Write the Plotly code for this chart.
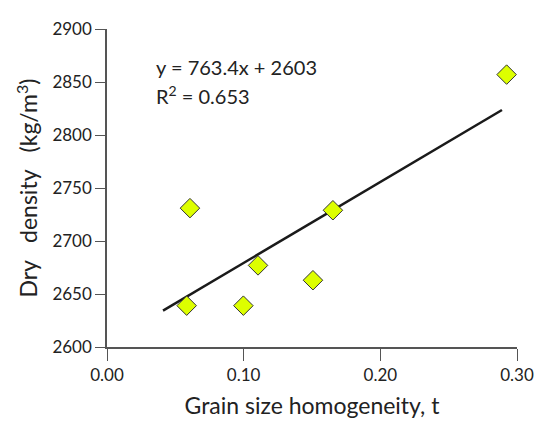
import plotly.graph_objects as go

# Data
grain_t = [0.0583, 0.0607, 0.0998, 0.1105, 0.1507, 0.1653, 0.2924]
dry_density = [2639, 2731, 2639, 2677, 2663, 2729, 2857]

# Linear trendline (from the equation shown)
slope = 763.4
intercept = 2603
trend_x = [0.041, 0.289]
trend_y = [slope * x + intercept for x in trend_x]

x_ticks = [0.0, 0.1, 0.2, 0.3]
y_ticks = [2600, 2650, 2700, 2750, 2800, 2850, 2900]

FONT = "Lato"
fig = go.Figure()
fig.add_trace(go.Scatter(x=trend_x, y=trend_y, mode="lines",
                         line=dict(color="#1a1a1a", width=2.5), showlegend=False,
                         hoverinfo="skip"))
fig.add_trace(go.Scatter(x=grain_t, y=dry_density, mode="markers",
                         marker=dict(symbol="diamond", size=15, color="#DDFF00",
                                     line=dict(color="#333333", width=1)),
                         showlegend=False))

fig.add_annotation(x=0.0345, y=2864, xref="x", yref="y", xanchor="left", yanchor="middle",
                   text="y = 763.4x + 2603", showarrow=False,
                   font=dict(family=FONT, size=20, color="#222222"))
fig.add_annotation(x=0.0345, y=2838, xref="x", yref="y", xanchor="left", yanchor="middle",
                   text="R<sup>2</sup> = 0.653", showarrow=False,
                   font=dict(family=FONT, size=20, color="#222222"))

axis_common = dict(showline=True, linecolor="#555555", linewidth=1.5,
                   tickwidth=1.3, tickcolor="#555555", ticks="outside",
                   showgrid=False, zeroline=False, ticklabeloverflow="allow",
                   tickfont=dict(family=FONT, size=17, color="#222222"))

fig.update_layout(
    width=538, height=417,
    margin=dict(l=99, r=29, t=10, b=76),
    paper_bgcolor="white", plot_bgcolor="white",
    xaxis=dict(range=[0, 0.30], tickvals=x_ticks, tickformat=".2f", ticklen=12,
               title=dict(text="Grain size homogeneity, t", standoff=14,
                          font=dict(family=FONT, size=23, color="#222222")),
               **axis_common),
    yaxis=dict(range=[2600, 2900], tickvals=y_ticks, ticklen=10,
               title=dict(text="Dry\u00a0\u00a0\u00a0density\u00a0\u00a0\u00a0(kg/m<sup>3</sup>)", standoff=8,
                          font=dict(family=FONT, size=23, color="#222222")),
               **axis_common),
)

fig.write_html("out.html")
